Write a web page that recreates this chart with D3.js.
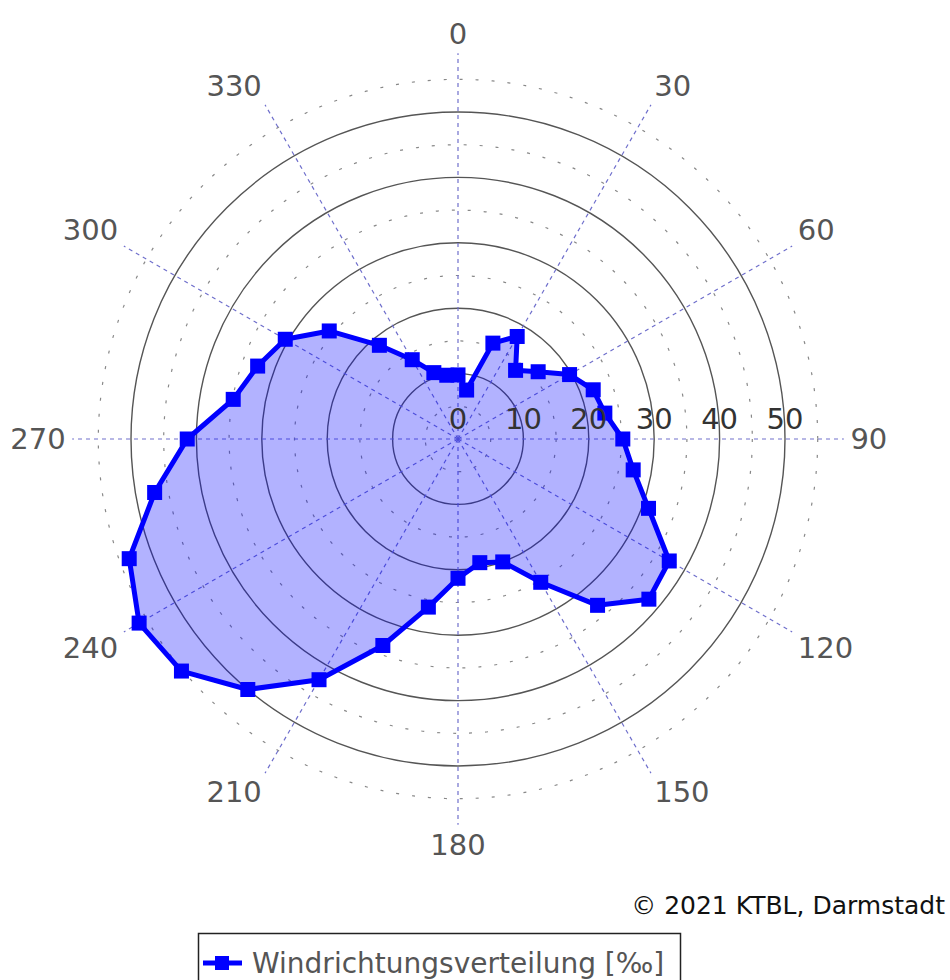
<!DOCTYPE html>
<html>
<head>
<meta charset="utf-8">
<script src="https://cdn.jsdelivr.net/npm/d3@7"></script>
<style>
body { margin: 0; background: #fff; }
svg { font-family: "DejaVu Sans", sans-serif; }
</style>
</head>
<body>
<svg id="chart" width="950" height="980"></svg>
<script>
// wind direction in degrees, value in per mille
const directions = d3.range(0, 360, 10);
const values = [9.8, 7.6, 15.6, 18.1, 13.7, 16.0, 19.7, 22.0, 22.8, 25.2,
	27.2, 31.0, 37.3, 38.1, 33.2, 25.3, 20.0, 19.2, 21.3, 26.1,
	33.6, 42.5, 50.0, 55.2, 56.3, 53.5, 47.1, 41.4, 34.9, 32.6,
	30.5, 25.7, 18.7, 14.0, 10.8, 9.9];
const radialTicks = [0, 10, 20, 30, 40, 50];
const minorRings = [5, 15, 25, 35, 45, 55];
const angleTicks = d3.range(0, 360, 30);
const seriesName = "Windrichtungsverteilung [‰]";

const cx = 458;
const cy = 439;

const svg = d3.select("#chart");
const g = svg.append("g")
	.attr("transform", "translate(" + cx + "," + cy + ")");

const r = d3.scaleLinear()
	.domain([0, 50])
	.range([0, 327]);

const rad = deg => deg * Math.PI / 180;
const px = (deg, v) => Math.sin(rad(deg)) * r(v);
const py = (deg, v) => -Math.cos(rad(deg)) * r(v);

// dotted minor rings
g.selectAll(".minor")
	.data(minorRings)
	.enter()
	.append("circle")
	.attr("r", d => r(d))
	.attr("fill", "none")
	.attr("stroke", "#888")
	.attr("stroke-width", 1.2)
	.attr("stroke-dasharray", "3,13");

// solid rings
g.selectAll(".major")
	.data(radialTicks.slice(1))
	.enter()
	.append("circle")
	.attr("r", d => r(d))
	.attr("fill", "none")
	.attr("stroke", "#555")
	.attr("stroke-width", 1.4);

// spokes
g.selectAll(".spoke")
	.data(angleTicks)
	.enter()
	.append("line")
	.attr("x1", 0)
	.attr("y1", 0)
	.attr("x2", d => px(d, 59))
	.attr("y2", d => py(d, 59))
	.attr("stroke", "#7070cc")
	.attr("stroke-width", 1.2)
	.attr("stroke-dasharray", "4,4");

// angle labels, placed so the text box touches the label point
g.selectAll(".alabel")
	.data(angleTicks)
	.enter()
	.append("text")
	.attr("x", d => px(d, 60))
	.attr("y", d => py(d, 60))
	.attr("dy", d => {
		const c = Math.cos(rad(d));
		return c > 0.01 ? "-0.1em" : c < -0.01 ? "0.8em" : "0.35em";
	})
	.attr("text-anchor", d => {
		const s = Math.sin(rad(d));
		return s > 0.01 ? "start" : s < -0.01 ? "end" : "middle";
	})
	.attr("font-size", 29)
	.attr("fill", "#555")
	.text(d => d);

// area
const points = values.map((v, i) => [px(directions[i], v), py(directions[i], v)]);

const area = d3.line()
	.x(d => d[0])
	.y(d => d[1])
	.curve(d3.curveLinearClosed);

g.append("path")
	.attr("d", area(points))
	.attr("fill", "rgba(0,0,255,0.3)")
	.attr("stroke", "#0000ff")
	.attr("stroke-width", 5)
	.attr("stroke-linejoin", "round");

g.selectAll(".marker")
	.data(points)
	.enter()
	.append("rect")
	.attr("x", d => d[0] - 7.5)
	.attr("y", d => d[1] - 7.5)
	.attr("width", 15)
	.attr("height", 15)
	.attr("fill", "#0000ff");

// radial tick labels
g.selectAll(".rlabel")
	.data(radialTicks)
	.enter()
	.append("text")
	.attr("x", d => r(d))
	.attr("y", -10)
	.attr("text-anchor", "middle")
	.attr("font-size", 29)
	.attr("fill", "#333")
	.text(d => d);

// copyright
svg.append("text")
	.attr("x", 945)
	.attr("y", 914)
	.attr("text-anchor", "end")
	.attr("font-size", 25)
	.attr("fill", "#111")
	.text("© 2021 KTBL, Darmstadt");

// legend
const legend = svg.append("g");
legend.append("rect")
	.attr("x", 198.5)
	.attr("y", 933.5)
	.attr("width", 482)
	.attr("height", 60)
	.attr("fill", "#fff")
	.attr("stroke", "#222")
	.attr("stroke-width", 1.5);
legend.append("line")
	.attr("x1", 203)
	.attr("x2", 242)
	.attr("y1", 963)
	.attr("y2", 963)
	.attr("stroke", "#0000ff")
	.attr("stroke-width", 5);
legend.append("rect")
	.attr("x", 215)
	.attr("y", 956)
	.attr("width", 14)
	.attr("height", 14)
	.attr("fill", "#0000ff");
legend.append("text")
	.attr("x", 252)
	.attr("y", 973)
	.attr("font-size", 28)
	.attr("fill", "#555")
	.text(seriesName);
</script>
</body>
</html>
